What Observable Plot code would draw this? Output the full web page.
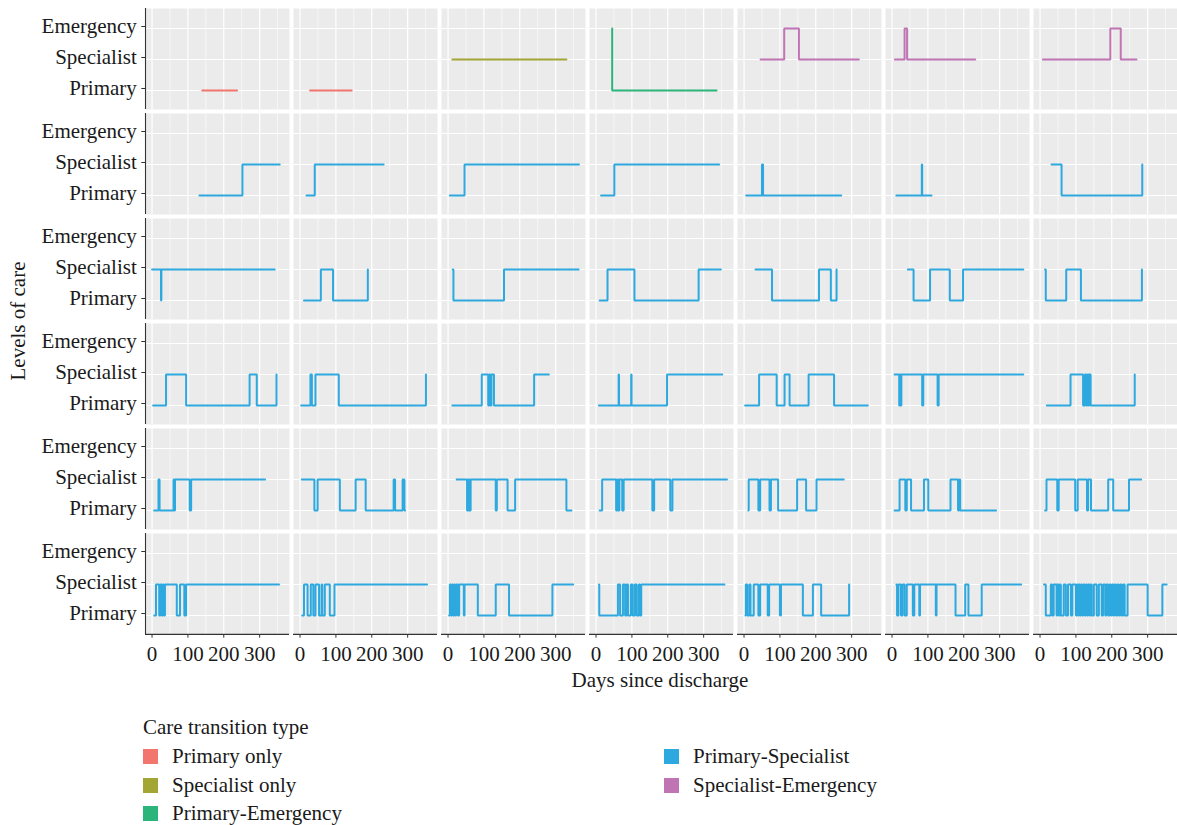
<!DOCTYPE html>
<html><head><meta charset="utf-8">
<script src="https://cdn.jsdelivr.net/npm/d3@7"></script>
<script src="https://cdn.jsdelivr.net/npm/@observablehq/plot@0.6"></script>
<style>
body{margin:0;background:#fff;font-family:"Liberation Serif",serif;color:#1a1a1a}
#wrap{position:relative;width:1177px;height:825px;overflow:hidden}
#wrap svg{position:absolute;left:0;top:0}
.t{position:absolute;font-size:21px;line-height:24px;white-space:nowrap}
.sw{position:absolute;width:15px;height:15px}
</style></head><body><div id="wrap"></div><script>
// ---- data ----
const levels = ["Emergency", "Specialist", "Primary"];
const levelCode = {P: "Primary", S: "Specialist", E: "Emergency"};
const types = ["Primary only", "Specialist only", "Primary-Emergency", "Primary-Specialist", "Specialist-Emergency"];
const typeColors = ["#F3766E", "#A3A535", "#2BB57A", "#2EA9DF", "#C074B4"];
const xTicks = [0, 100, 200, 300];
const xMinor = [50, 150, 250, 350];
const row1Types = [0, 0, 1, 2, 4, 4, 4];
const otherRowType = 3;

const row1 = [
  [[140,"P"],[237,"P"]],
  [[28,"P"],[144,"P"]],
  [[12,"S"],[330,"S"]],
  [[45,"E"],[45,"P"],[336,"P"]],
  [[46,"S"],[112,"E"],[153,"S"],[320,"S"]],
  [[8,"S"],[35,"E"],[42,"S"],[232,"S"]],
  [[8,"S"],[196,"E"],[225,"S"],[269,"S"]]
];
const row2 = [
  [[132,"P"],[252,"S"],[356,"S"]],
  [[18,"P"],[41,"S"],[233,"S"]],
  [[5,"P"],[46,"S"],[365,"S"]],
  [[14,"P"],[51,"S"],[343,"S"]],
  [[6,"P"],[50,"S"],[51,"P"],[52,"S"],[53,"P"],[271,"P"]],
  [[12,"P"],[83,"S"],[84,"P"],[110,"P"]],
  [[32,"S"],[60,"P"],[285,"S"]]
];
const row3 = [
  [[0,"S"],[25,"P"],[26,"S"],[342,"S"]],
  [[11,"P"],[58,"S"],[92,"P"],[189,"S"]],
  [[13,"S"],[15,"P"],[156,"S"],[364,"S"]],
  [[10,"P"],[32,"S"],[107,"P"],[286,"S"],[348,"S"]],
  [[32,"S"],[78,"P"],[209,"S"],[242,"P"],[258,"S"]],
  [[44,"S"],[60,"P"],[106,"S"],[161,"P"],[198,"S"],[366,"S"]],
  [[14,"S"],[16,"P"],[73,"S"],[114,"P"],[284,"S"]]
];
const row4 = [
  [[3,"P"],[39,"S"],[95,"P"],[272,"S"],[292,"P"],[347,"S"]],
  [[3,"P"],[29,"S"],[33,"P"],[43,"S"],[108,"P"],[351,"S"]],
  [[12,"P"],[94,"S"],[112,"P"],[115,"S"],[118,"P"],[121,"S"],[128,"P"],[240,"S"],[281,"S"]],
  [[8,"P"],[63,"S"],[64,"P"],[98,"S"],[99,"P"],[198,"S"],[352,"S"]],
  [[3,"P"],[42,"S"],[91,"P"],[113,"S"],[127,"P"],[180,"S"],[251,"P"],[345,"P"]],
  [[7,"S"],[20,"P"],[22,"S"],[24,"P"],[26,"S"],[84,"P"],[87,"S"],[127,"P"],[130,"S"],[366,"S"]],
  [[19,"P"],[85,"S"],[120,"P"],[125,"S"],[129,"P"],[132,"S"],[135,"P"],[137,"S"],[141,"P"],[264,"S"]]
];
const row5 = [
  [[6,"P"],[18,"S"],[21,"P"],[60,"S"],[62,"P"],[64,"S"],[105,"P"],[109,"S"],[315,"S"]],
  [[5,"S"],[40,"P"],[49,"S"],[111,"P"],[155,"S"],[183,"P"],[261,"S"],[265,"P"],[286,"S"],[291,"P"],[293,"P"]],
  [[24,"S"],[53,"P"],[55,"S"],[57,"P"],[59,"S"],[61,"P"],[63,"S"],[133,"P"],[136,"S"],[166,"P"],[187,"S"],[330,"P"],[344,"P"]],
  [[10,"P"],[17,"S"],[56,"P"],[59,"S"],[62,"P"],[65,"S"],[73,"P"],[77,"S"],[157,"P"],[162,"S"],[207,"P"],[213,"S"],[365,"S"]],
  [[12,"P"],[13,"S"],[40,"P"],[45,"S"],[71,"P"],[75,"S"],[95,"P"],[148,"S"],[173,"P"],[202,"S"],[278,"S"]],
  [[7,"P"],[21,"S"],[37,"P"],[41,"S"],[53,"P"],[89,"S"],[101,"P"],[163,"S"],[184,"P"],[187,"S"],[190,"P"],[290,"P"]],
  [[14,"P"],[18,"S"],[48,"P"],[52,"S"],[98,"P"],[105,"S"],[131,"P"],[134,"S"],[142,"P"],[190,"S"],[204,"P"],[248,"S"],[282,"S"]]
];
const row6 = [
  [[6,"P"],[11,"S"],[20,"P"],[23,"S"],[27,"P"],[30,"S"],[33,"P"],[36,"S"],[69,"P"],[78,"S"],[90,"P"],[95,"S"],[354,"S"]],
  [[6,"P"],[11,"S"],[21,"P"],[30,"S"],[37,"P"],[43,"S"],[53,"P"],[60,"S"],[62,"P"],[69,"S"],[83,"P"],[96,"S"],[354,"S"]],
  [[3,"P"],[5,"S"],[8,"P"],[11,"S"],[14,"P"],[17,"S"],[20,"P"],[23,"S"],[28,"P"],[31,"S"],[44,"P"],[46,"S"],[83,"P"],[133,"S"],[170,"P"],[291,"S"],[349,"S"]],
  [[8,"S"],[9,"P"],[61,"S"],[67,"P"],[75,"S"],[81,"P"],[85,"S"],[89,"P"],[97,"S"],[102,"P"],[108,"S"],[113,"P"],[119,"S"],[122,"P"],[126,"S"],[358,"S"]],
  [[4,"P"],[5,"S"],[9,"P"],[15,"S"],[18,"P"],[27,"S"],[40,"P"],[45,"S"],[66,"P"],[70,"S"],[100,"P"],[103,"S"],[164,"P"],[192,"S"],[215,"P"],[293,"S"]],
  [[12,"S"],[14,"P"],[18,"S"],[25,"P"],[29,"S"],[35,"P"],[41,"S"],[58,"P"],[62,"S"],[76,"P"],[78,"S"],[122,"P"],[124,"S"],[177,"P"],[204,"S"],[213,"P"],[250,"S"],[360,"S"]],
  [[11,"S"],[16,"P"],[30,"S"],[34,"P"],[38,"S"],[46,"P"],[48,"S"],[52,"P"],[55,"S"],[58,"P"],[66,"S"],[72,"P"],[78,"S"],[86,"P"],[90,"S"],[100,"P"],[103,"S"],[106,"P"],[108,"S"],[111,"P"],[114,"S"],[117,"P"],[120,"S"],[124,"P"],[127,"S"],[131,"P"],[134,"S"],[138,"P"],[141,"S"],[144,"P"],[150,"S"],[158,"P"],[164,"S"],[172,"P"],[176,"S"],[182,"P"],[185,"S"],[190,"P"],[194,"S"],[198,"P"],[201,"S"],[205,"P"],[208,"S"],[212,"P"],[216,"S"],[220,"P"],[224,"S"],[228,"P"],[232,"S"],[236,"P"],[244,"S"],[300,"P"],[341,"S"],[353,"S"]]
];
const allRows = [row1, row2, row3, row4, row5, row6];

// ---- table ----
const table = [];
allRows.forEach((row, ri) => row.forEach((pts, ci) => {
  const type = types[ri === 0 ? row1Types[ci] : otherRowType];
  pts.forEach(([d, l]) => table.push({row: ri, col: ci, id: ri * 7 + ci, day: d, level: levelCode[l], type}));
}));

const xDomain = [-18.25, 383.25];
const H = 700, MT = 8, MB = 66;
const bandH = (H - MT - MB) / (6 - 0.04) * (1 - 0.04);
const yStep = bandH / 3.2;

const chart = Plot.plot({
  width: 1177, height: H,
  marginTop: MT, marginLeft: 144, marginRight: 0, marginBottom: MB,
  style: {fontFamily: "Liberation Serif, serif", fontSize: "21px", color: "#1a1a1a", background: "transparent"},
  fx: {domain: d3.range(7), paddingInner: 0.028, paddingOuter: 0, axis: null, label: null},
  fy: {domain: d3.range(6), paddingInner: 0.04, paddingOuter: 0, axis: null, label: null},
  x: {domain: xDomain, label: null},
  y: {type: "point", domain: levels, padding: 0.6, label: null},
  color: {domain: types, range: typeColors},
  marks: [
    Plot.frame({fill: "#EBEBEB", stroke: null}),
    Plot.gridX(xMinor, {stroke: "#fff", strokeOpacity: 1, strokeWidth: 0.6}),
    Plot.gridX(xTicks, {stroke: "#fff", strokeOpacity: 1, strokeWidth: 1.2}),
    Plot.gridY(levels, {stroke: "#fff", strokeOpacity: 1, strokeWidth: 1.2}),
    Plot.line(table, {x: "day", y: "level", z: "id", fx: "col", fy: "row", stroke: "type", strokeWidth: 2, curve: "step-after", strokeLinejoin: "miter"}),
    Plot.axisX(xTicks, {tickSize: 3.7, tickPadding: 8, stroke: "#333", label: null, fontSize: 21}),
    Plot.axisY(levels, {tickSize: 3.7, tickPadding: 5, stroke: "#333", label: null, fontSize: 21, dy: -2}),
    Plot.ruleX([xDomain[0]], {stroke: "#333", strokeWidth: 1.1, facetAnchor: "left"}),
    Plot.ruleY(["Primary"], {dy: 0.6 * yStep, stroke: "#333", strokeWidth: 1.1, facetAnchor: "bottom"})
  ]
});

const wrap = document.getElementById("wrap");
wrap.appendChild(chart);

function addText(txt, left, top, extra) {
  const d = document.createElement("div");
  d.className = "t";
  d.textContent = txt;
  d.style.left = left + "px";
  d.style.top = top + "px";
  if (extra) Object.assign(d.style, extra);
  wrap.appendChild(d);
  return d;
}
// axis titles
addText("Days since discharge", 660, 668, {transform: "translateX(-50%)"});
addText("Levels of care", 18, 321, {transform: "translate(-50%,-50%) rotate(-90deg)", left: "18px"});
// legend
addText("Care transition type", 143, 715);
const legPos = [[143, 756], [143, 785], [143, 813], [664, 756], [664, 785]];
types.forEach((t, i) => {
  const [x, y] = legPos[i];
  const s = document.createElement("div");
  s.className = "sw";
  s.style.left = x + "px";
  s.style.top = (y - 7.5) + "px";
  s.style.background = typeColors[i];
  wrap.appendChild(s);
  addText(t, x + 29, y - 12);
});
</script></body></html>
